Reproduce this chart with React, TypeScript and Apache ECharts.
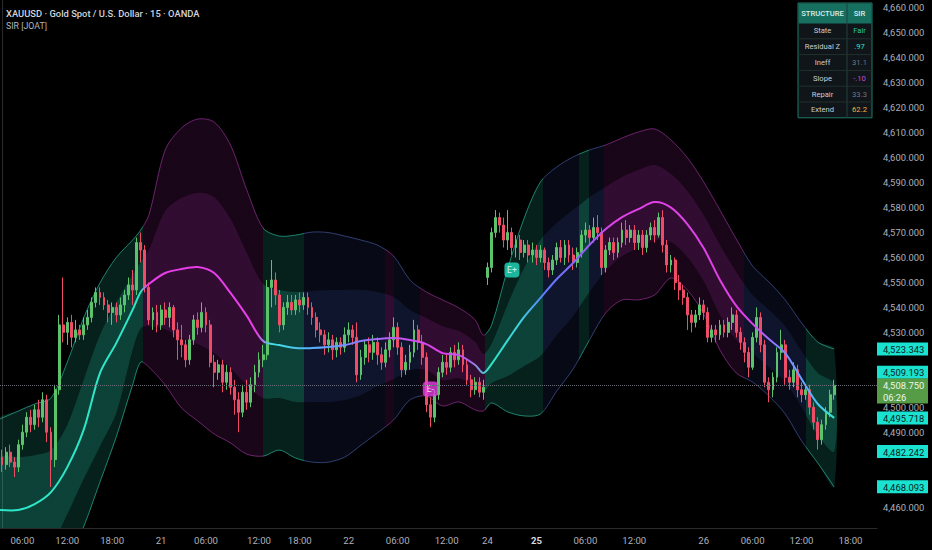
import React, { useEffect, useRef } from 'react';
import * as echarts from 'echarts';

// ---------- data ----------
const N_SLOTS = 215; // 30-minute slots across the visible time range (incl. empty future space)
const CATEGORIES = Array.from({ length: N_SLOTS }, (_, i) => String(i));

const TICK_IDX = [5, 16, 27, 39, 50, 63, 73, 85, 97, 109, 119, 131, 143, 155, 172, 184, 196, 208];
const TICK_LABELS = ['06:00', '12:00', '18:00', '21', '06:00', '12:00', '18:00', '22', '06:00', '12:00', '24', '25', '06:00', '12:00', '26', '06:00', '12:00', '18:00'];

// price-scale labels hidden behind the coloured tags
const HIDDEN_TICKS = [4520, 4510, 4480, 4470];

// [open, close, low, high]
const CANDLES: number[][] = [
  [4480, 4477, 4474, 4483], [4477, 4482, 4475, 4484], [4482, 4478, 4476, 4485], [4478, 4476, 4472, 4480],
  [4476, 4485, 4474, 4487], [4485, 4490, 4483, 4493], [4490, 4496, 4488, 4498], [4496, 4493, 4490, 4499],
  [4493, 4499, 4491, 4501], [4499, 4496, 4492, 4503], [4496, 4503, 4494, 4506], [4503, 4490, 4486, 4505],
  [4490, 4479, 4468, 4492], [4479, 4507, 4476, 4509], [4507, 4533, 4505, 4537], [4533, 4530, 4526, 4552],
  [4530, 4534, 4525, 4536], [4534, 4528, 4524, 4537], [4528, 4531, 4526, 4535], [4531, 4529, 4527, 4533],
  [4529, 4533, 4527, 4536], [4533, 4536, 4531, 4539], [4536, 4542, 4534, 4544], [4542, 4546, 4540, 4548],
  [4546, 4544, 4541, 4548], [4544, 4541, 4539, 4546], [4541, 4538, 4534, 4543], [4538, 4540, 4533, 4542],
  [4540, 4537, 4534, 4542], [4537, 4541, 4535, 4544], [4541, 4545, 4538, 4547], [4545, 4549, 4543, 4552],
  [4549, 4547, 4541, 4555], [4547, 4566, 4545, 4568], [4566, 4563, 4558, 4570], [4563, 4548, 4546, 4565],
  [4548, 4535, 4533, 4550], [4535, 4538, 4531, 4540], [4538, 4533, 4530, 4541], [4533, 4539, 4531, 4541],
  [4539, 4536, 4533, 4542], [4536, 4540, 4532, 4542], [4540, 4531, 4528, 4541], [4531, 4527, 4519, 4534],
  [4527, 4525, 4520, 4533], [4525, 4519, 4516, 4527], [4519, 4527, 4517, 4529], [4527, 4535, 4525, 4537],
  [4535, 4532, 4529, 4538], [4532, 4538, 4530, 4542], [4538, 4533, 4530, 4540], [4533, 4518, 4516, 4535],
  [4518, 4514, 4508, 4521], [4514, 4517, 4511, 4519], [4517, 4510, 4506, 4519], [4510, 4514, 4507, 4517],
  [4514, 4508, 4505, 4516], [4508, 4503, 4497, 4511], [4503, 4498, 4490, 4506], [4498, 4506, 4496, 4509],
  [4506, 4502, 4499, 4511], [4502, 4509, 4500, 4512], [4509, 4514, 4506, 4517], [4514, 4519, 4512, 4522],
  [4519, 4521, 4516, 4525], [4521, 4548, 4519, 4551], [4548, 4551, 4540, 4559], [4551, 4545, 4541, 4554],
  [4545, 4533, 4530, 4547], [4533, 4540, 4531, 4542], [4540, 4542, 4537, 4545], [4542, 4539, 4537, 4545],
  [4539, 4543, 4537, 4545], [4543, 4541, 4538, 4546], [4541, 4544, 4539, 4546], [4544, 4540, 4537, 4546],
  [4540, 4536, 4533, 4542], [4536, 4531, 4528, 4538], [4531, 4529, 4526, 4534], [4529, 4525, 4521, 4531],
  [4525, 4527, 4522, 4530], [4527, 4523, 4519, 4529], [4523, 4526, 4520, 4528], [4526, 4524, 4521, 4528],
  [4524, 4529, 4522, 4532], [4529, 4531, 4526, 4534], [4531, 4528, 4525, 4533], [4528, 4513, 4510, 4534],
  [4513, 4520, 4511, 4523], [4520, 4525, 4517, 4527], [4525, 4522, 4518, 4528], [4522, 4526, 4519, 4529],
  [4526, 4521, 4517, 4528], [4521, 4518, 4515, 4524], [4518, 4523, 4516, 4526], [4523, 4527, 4520, 4530],
  [4527, 4532, 4524, 4536], [4532, 4524, 4521, 4534], [4524, 4515, 4512, 4526], [4515, 4518, 4513, 4521],
  [4518, 4522, 4515, 4525], [4522, 4531, 4520, 4535], [4531, 4526, 4523, 4533], [4526, 4520, 4517, 4529],
  [4520, 4501, 4498, 4522], [4501, 4496, 4492, 4504], [4496, 4505, 4494, 4507], [4505, 4514, 4503, 4516],
  [4514, 4518, 4512, 4521], [4518, 4516, 4513, 4521], [4516, 4522, 4514, 4524], [4522, 4519, 4516, 4525],
  [4519, 4523, 4517, 4526], [4523, 4517, 4514, 4525], [4517, 4511, 4509, 4519], [4511, 4507, 4504, 4513],
  [4507, 4510, 4505, 4512], [4510, 4506, 4504, 4512], [4506, 4508, 4503, 4511], [4552, 4556, 4549, 4558],
  [4556, 4570, 4554, 4572], [4570, 4576, 4568, 4579], [4576, 4573, 4570, 4578], [4573, 4567, 4564, 4576],
  [4567, 4570, 4563, 4579], [4570, 4564, 4561, 4572], [4564, 4567, 4560, 4569], [4567, 4562, 4559, 4569],
  [4562, 4565, 4560, 4567], [4565, 4561, 4558, 4567], [4561, 4563, 4558, 4566], [4563, 4560, 4557, 4565],
  [4560, 4563, 4558, 4565], [4563, 4558, 4555, 4564], [4558, 4555, 4552, 4560], [4555, 4559, 4553, 4561],
  [4559, 4564, 4557, 4566], [4564, 4560, 4558, 4567], [4560, 4565, 4557, 4567], [4565, 4561, 4558, 4567],
  [4561, 4558, 4555, 4564], [4558, 4562, 4556, 4564], [4562, 4569, 4560, 4571], [4569, 4571, 4566, 4574],
  [4571, 4568, 4565, 4573], [4568, 4572, 4566, 4576], [4572, 4570, 4567, 4577], [4570, 4556, 4553, 4572],
  [4556, 4563, 4554, 4565], [4563, 4566, 4561, 4568], [4566, 4562, 4559, 4568], [4562, 4566, 4560, 4568],
  [4566, 4571, 4564, 4574], [4571, 4568, 4565, 4575], [4568, 4571, 4566, 4573], [4571, 4566, 4563, 4573],
  [4566, 4569, 4563, 4571], [4569, 4564, 4561, 4571], [4564, 4569, 4562, 4571], [4569, 4572, 4567, 4574],
  [4572, 4569, 4566, 4575], [4569, 4576, 4568, 4578], [4576, 4565, 4562, 4579], [4565, 4557, 4554, 4567],
  [4557, 4559, 4554, 4561], [4559, 4550, 4547, 4560], [4550, 4547, 4543, 4553], [4547, 4544, 4541, 4549],
  [4544, 4537, 4531, 4546], [4537, 4534, 4530, 4539], [4534, 4537, 4532, 4539], [4537, 4541, 4535, 4544],
  [4541, 4538, 4535, 4543], [4538, 4528, 4526, 4540], [4528, 4531, 4526, 4533], [4531, 4529, 4526, 4533],
  [4529, 4533, 4527, 4535], [4533, 4530, 4528, 4535], [4530, 4534, 4528, 4536], [4534, 4537, 4531, 4540],
  [4537, 4530, 4528, 4539], [4530, 4526, 4523, 4532], [4526, 4522, 4518, 4528], [4522, 4516, 4512, 4524],
  [4516, 4528, 4515, 4530], [4528, 4536, 4526, 4540], [4536, 4525, 4522, 4538], [4525, 4510, 4508, 4527],
  [4510, 4507, 4502, 4512], [4507, 4512, 4504, 4514], [4512, 4522, 4510, 4524], [4522, 4525, 4519, 4531],
  [4525, 4512, 4509, 4527], [4512, 4510, 4507, 4515], [4510, 4515, 4508, 4518], [4515, 4507, 4504, 4517],
  [4507, 4505, 4502, 4510], [4505, 4507, 4503, 4509], [4507, 4500, 4497, 4509], [4500, 4494, 4491, 4502],
  [4494, 4487, 4483, 4496], [4487, 4493, 4485, 4495], [4493, 4498, 4491, 4500], [4498, 4505, 4496, 4507],
  [4505, 4508.75, 4503, 4511],
];

// band samples (x in slot units)
const BAND_X = [-0.5, 4, 8, 12, 16, 20, 24, 28, 32, 34, 36, 40, 44, 48, 52, 56, 60, 64, 68, 72, 76, 80, 84, 88, 92, 96, 100, 104, 108, 112, 116, 118, 120, 124, 128, 132, 136, 140, 144, 148, 152, 156, 160, 164, 168, 172, 176, 180, 184, 188, 192, 196, 200, 204];
const MID = [4458.8, 4458.8, 4461.2, 4466.0, 4476.0, 4490.9, 4513.7, 4525.7, 4539.0, 4546.2, 4549.4, 4553.8, 4555.4, 4556.2, 4553.8, 4545.8, 4536.6, 4526.5, 4524.9, 4523.7, 4523.7, 4524.1, 4524.9, 4526.5, 4527.3, 4527.7, 4526.9, 4525.3, 4521.7, 4520.9, 4516.9, 4513.7, 4517.3, 4526.9, 4536.2, 4543.8, 4551.4, 4557.8, 4565.0, 4571.4, 4576.2, 4579.4, 4582.2, 4580.0, 4573.4, 4563.8, 4551.0, 4540.6, 4533.4, 4527.3, 4521.7, 4511.3, 4501.3, 4495.718];
const UP_OUTER = [4495.3, 4498.5, 4501.3, 4503.7, 4518.1, 4535.8, 4549.8, 4560.0, 4567.0, 4571.0, 4577.0, 4603.1, 4611.9, 4615.5, 4614.3, 4605.1, 4587.1, 4571.8, 4568.6, 4569.0, 4570.2, 4570.0, 4568.6, 4567.0, 4565.0, 4560.6, 4551.0, 4546.2, 4543.0, 4539.8, 4535.0, 4528.9, 4532.9, 4555.8, 4575.8, 4590.3, 4596.3, 4600.3, 4603.1, 4605.1, 4607.9, 4610.3, 4611.5, 4607.1, 4600.0, 4590.3, 4579.0, 4567.4, 4556.6, 4550.2, 4543.0, 4533.8, 4526.1, 4523.343];
const UP_INNER = [4479.6, 4480.0, 4480.8, 4482.8, 4492.9, 4510.9, 4528.9, 4541.8, 4553.0, 4558.2, 4563.0, 4578.6, 4583.8, 4585.9, 4584.2, 4575.4, 4561.8, 4549.4, 4547.0, 4546.2, 4546.6, 4547.0, 4547.0, 4547.0, 4546.2, 4544.2, 4539.0, 4535.8, 4532.5, 4530.5, 4526.1, 4521.3, 4525.3, 4541.4, 4555.8, 4567.0, 4573.8, 4579.0, 4584.2, 4588.3, 4592.3, 4595.1, 4597.1, 4593.5, 4586.7, 4577.0, 4565.0, 4554.2, 4545.0, 4539.0, 4532.5, 4522.5, 4513.7, 4509.193];
const LO_INNER = [4438.0, 4437.6, 4441.6, 4444.8, 4457.2, 4471.2, 4484.4, 4497.7, 4522.9, 4531.7, 4532.5, 4531.3, 4527.7, 4525.3, 4521.7, 4515.7, 4508.9, 4503.7, 4503.7, 4502.1, 4502.1, 4502.1, 4502.9, 4504.9, 4508.5, 4511.3, 4514.9, 4514.9, 4510.9, 4511.7, 4508.3, 4506.1, 4509.7, 4512.5, 4516.5, 4520.5, 4528.9, 4536.6, 4546.2, 4554.6, 4560.6, 4563.8, 4567.0, 4566.2, 4560.2, 4550.6, 4537.0, 4526.9, 4521.7, 4516.1, 4510.1, 4500.1, 4488.9, 4482.242];
const LO_OUTER = [4422.3, 4419.1, 4421.1, 4426.7, 4436.8, 4452.0, 4470.0, 4488.1, 4508.9, 4518.1, 4516.1, 4508.9, 4499.7, 4494.5, 4489.3, 4485.7, 4481.2, 4480.4, 4482.8, 4479.6, 4478.0, 4478.0, 4480.0, 4484.8, 4489.7, 4494.9, 4502.9, 4504.5, 4500.5, 4502.1, 4498.9, 4498.5, 4501.7, 4498.1, 4496.5, 4497.3, 4506.5, 4515.3, 4526.9, 4537.8, 4543.0, 4543.0, 4545.0, 4551.8, 4547.0, 4537.4, 4522.9, 4513.7, 4510.1, 4504.5, 4497.3, 4486.5, 4477.6, 4468.093];

// regime segments
const REGIME_START = [-0.5, 34.5, 64, 74, 94, 96, 102.5, 118.5, 132.5, 141.5, 144, 147.5, 182, 197];
const REGIME_KIND = ['bull', 'bear', 'bull', 'neu', 'bear', 'neu', 'bear', 'bull', 'neu', 'bull', 'neu', 'bear', 'neu', 'bull'];

// midline colour keys
const MID_COLOR_X = [0, 34, 35.5, 62.5, 66, 78, 88, 97.5, 107.5, 114.5, 119.5, 127, 133, 144, 150, 183.5, 189.5, 198, 204];
const MID_COLOR = ['#2ee6c8', '#2ee6c8', '#e83ee8', '#e83ee8', '#3fe0e0', '#5aa8ff', '#8a7cff', '#c455f0', '#e040e8', '#b060f0', '#2ee6c8', '#40d0e0', '#5a7cff', '#9a5cf5', '#e040e8', '#e040e8', '#8a7cff', '#5ab0ff', '#2ee6c8'];

// signal labels
const SIGNAL_IDX = [125, 105];
const SIGNAL_PRICE = [4555.0, 4507.3];
const SIGNAL_TEXT = ['E+', 'E-'];
const SIGNAL_COLOR = ['#1fdcbe', '#e23fe0'];

// price tags on the scale
const TAG_VALUES = [4523.343, 4509.193, 4495.718, 4482.242, 4468.093];
const TAG_LABELS = ['4,523.343', '4,509.193', '4,495.718', '4,482.242', '4,468.093'];
const TAG_SHIFT = [0, -12, 0, 0, 0];
const LAST_PRICE = 4508.75;
const LAST_LABEL = '4,508.750';
const COUNTDOWN = '06:26';

// table
const TABLE_HEAD = ['STRUCTURE', 'SIR'];
const TABLE_ROWS = ['State', 'Residual Z', 'Ineff', 'Slope', 'Repair', 'Extend'];
const TABLE_VALUES = ['Fair', '.97', '31.1', '-.10', '33.3', '62.2'];
const TABLE_VALUE_COLORS = ['#26c6a6', '#2ee6c8', '#6f7580', '#c64bd8', '#6f7580', '#e6b84a'];

const TITLE = 'XAUUSD · Gold Spot / U.S. Dollar · 15 · OANDA';
const SUBTITLE = 'SIR [JOAT]';

// ---------- styles ----------
const OUTER_FILL: Record<string, string> = { bull: 'rgba(38,200,170,0.16)', bear: 'rgba(205,50,205,0.12)', neu: 'rgba(70,100,215,0.10)' };
const INNER_FILL: Record<string, string> = { bull: 'rgba(38,200,170,0.20)', bear: 'rgba(215,55,215,0.13)', neu: 'rgba(70,100,215,0.12)' };
const EDGE_COLOR: Record<string, string> = { bull: 'rgba(45,205,175,0.6)', bear: 'rgba(200,65,200,0.5)', neu: 'rgba(90,115,210,0.5)' };
const SMOOTH = 0.3;
const FONT = 'Roboto, "Noto Sans", sans-serif';

const fmtPrice = (v: number) => {
  const s = Number(v).toFixed(3);
  const [a, b] = s.split('.');
  return a.replace(/\B(?=(\d{3})+(?!\d))/g, ',') + '.' + b;
};

const clamp01 = (v: number) => Math.max(0, Math.min(1, v));

function regimeStops(api: any, x0: number, x1: number, colors: Record<string, string>) {
  const span = x1 - x0 || 1;
  const stops: any[] = [];
  for (let k = 0; k < REGIME_START.length; k++) {
    const s = api.coord([REGIME_START[k], 4500])[0];
    const e = k + 1 < REGIME_START.length ? api.coord([REGIME_START[k + 1], 4500])[0] : x1;
    const c = colors[REGIME_KIND[k]];
    stops.push({ offset: clamp01((s - x0) / span), color: c });
    stops.push({ offset: clamp01((e - x0) / span), color: c });
  }
  return stops;
}

const bandRender = (params: any, api: any) => {
  if (params.dataIndex !== 0) return null;
  const pts = (arr: number[]) => BAND_X.map((x, i) => api.coord([x, arr[i]]));
  const uo = pts(UP_OUTER);
  const ui = pts(UP_INNER);
  const li = pts(LO_INNER);
  const lo = pts(LO_OUTER);
  const x0 = uo[0][0];
  const x1 = uo[uo.length - 1][0];
  const grad = (colors: Record<string, string>) =>
    new echarts.graphic.LinearGradient(x0, 0, x1, 0, regimeStops(api, x0, x1, colors), true);
  return {
    type: 'group',
    children: [
      { type: 'polygon', shape: { points: uo.concat(lo.slice().reverse()), smooth: SMOOTH }, style: { fill: grad(OUTER_FILL), stroke: 'none' } },
      { type: 'polygon', shape: { points: ui.concat(li.slice().reverse()), smooth: SMOOTH }, style: { fill: grad(INNER_FILL), stroke: 'none' } },
      { type: 'polyline', shape: { points: uo, smooth: SMOOTH }, style: { fill: 'none', stroke: grad(EDGE_COLOR), lineWidth: 1 } },
      { type: 'polyline', shape: { points: lo, smooth: SMOOTH }, style: { fill: 'none', stroke: grad(EDGE_COLOR), lineWidth: 1 } },
    ],
  };
};

const midRender = (params: any, api: any) => {
  if (params.dataIndex !== 0) return null;
  const pts = BAND_X.map((x, i) => api.coord([x, MID[i]]));
  const x0 = pts[0][0];
  const x1 = pts[pts.length - 1][0];
  const span = x1 - x0 || 1;
  const stops = MID_COLOR_X.map((x, k) => ({ offset: clamp01((api.coord([x, 4500])[0] - x0) / span), color: MID_COLOR[k] }));
  return {
    type: 'polyline',
    shape: { points: pts, smooth: SMOOTH },
    style: { fill: 'none', stroke: new echarts.graphic.LinearGradient(x0, 0, x1, 0, stops, true), lineWidth: 2 },
  };
};

const tagRender = (params: any, api: any) => {
  const i = params.dataIndex;
  const p = api.coord([api.value(0), api.value(1)]);
  const y = p[1] + TAG_SHIFT[i];
  return {
    type: 'group',
    children: [
      { type: 'rect', shape: { x: p[0], y: y - 6.5, width: 51, height: 13 }, style: { fill: '#19e3d0' } },
      { type: 'text', style: { text: TAG_LABELS[i], x: p[0] + 6, y: y + 0.5, fill: '#0a1c1c', font: `9.4px ${FONT}`, align: 'left', verticalAlign: 'middle' } },
    ],
  };
};

const lastTagRender = (params: any, api: any) => {
  const p = api.coord([api.value(0), api.value(1)]);
  const y = p[1];
  return {
    type: 'group',
    children: [
      { type: 'rect', shape: { x: p[0], y: y - 7, width: 51, height: 25 }, style: { fill: '#569c46' } },
      { type: 'text', style: { text: LAST_LABEL, x: p[0] + 6, y: y + 0.5, fill: '#eef6ea', font: `9.4px ${FONT}`, align: 'left', verticalAlign: 'middle' } },
      { type: 'text', style: { text: COUNTDOWN, x: p[0] + 6, y: y + 12, fill: '#eef6ea', font: `9.4px ${FONT}`, align: 'left', verticalAlign: 'middle' } },
    ],
  };
};

function buildTable() {
  const X = 798, Y = 3, W = 74, SPLIT = 49, HEAD_H = 20, ROW_H = 15.8;
  const H = HEAD_H + ROW_H * TABLE_ROWS.length;
  const els: any[] = [];
  els.push({ type: 'rect', shape: { x: X, y: Y, width: W, height: H }, style: { fill: '#0f1518', stroke: '#1e7a6a', lineWidth: 1 }, z: 10 });
  els.push({ type: 'rect', shape: { x: X + 0.5, y: Y + 0.5, width: W - 1, height: HEAD_H }, style: { fill: '#17705f' }, z: 11 });
  els.push({ type: 'line', shape: { x1: X + SPLIT, y1: Y, x2: X + SPLIT, y2: Y + H }, style: { stroke: '#24403e', lineWidth: 1 }, z: 12 });
  for (let r = 1; r < TABLE_ROWS.length; r++) {
    const yy = Y + HEAD_H + ROW_H * r;
    els.push({ type: 'line', shape: { x1: X, y1: yy, x2: X + W, y2: yy }, style: { stroke: '#22302f', lineWidth: 1 }, z: 12 });
  }
  const c1 = X + SPLIT / 2;
  const c2 = X + SPLIT + (W - SPLIT) / 2;
  const hy = Y + HEAD_H / 2 + 0.5;
  els.push({ type: 'text', style: { text: TABLE_HEAD[0], x: c1, y: hy, fill: '#d8efe8', font: `500 7.6px ${FONT}`, align: 'center', verticalAlign: 'middle' }, z: 13 });
  els.push({ type: 'text', style: { text: TABLE_HEAD[1], x: c2, y: hy, fill: '#d8efe8', font: `500 7.6px ${FONT}`, align: 'center', verticalAlign: 'middle' }, z: 13 });
  TABLE_ROWS.forEach((label, r) => {
    const yy = Y + HEAD_H + ROW_H * (r + 0.5);
    els.push({ type: 'text', style: { text: label, x: c1, y: yy, fill: '#c8ccd4', font: `7.6px ${FONT}`, align: 'center', verticalAlign: 'middle' }, z: 13 });
    els.push({ type: 'text', style: { text: TABLE_VALUES[r], x: c2, y: yy, fill: TABLE_VALUE_COLORS[r], font: `7.6px ${FONT}`, align: 'center', verticalAlign: 'middle' }, z: 13 });
  });
  return els;
}

export default function App() {
  const ref = useRef<HTMLDivElement | null>(null);
  useEffect(() => {
    if (!ref.current) return;
    const chart = echarts.init(ref.current, undefined, { renderer: 'svg' });
    const option: any = {
      animation: false,
      backgroundColor: '#000000',
      grid: { left: 0, right: 55, top: 0, bottom: 22, containLabel: false },
      xAxis: [
        {
          type: 'category',
          data: CATEGORIES,
          boundaryGap: true,
          axisLine: { show: true, lineStyle: { color: '#2a2a2a' } },
          axisTick: { show: false },
          splitLine: { show: false },
          axisLabel: {
            interval: (i: number) => TICK_IDX.includes(i),
            formatter: (_v: string, i: number) => {
              const k = TICK_IDX.indexOf(i);
              if (k < 0) return '';
              const t = TICK_LABELS[k];
              return t === '25' ? '{b|25}' : t;
            },
            color: '#aeb1ba',
            fontSize: 9.6,
            fontFamily: FONT,
            margin: 7,
            rich: { b: { fontWeight: 'bold', color: '#d6d9e0', fontSize: 9.6, fontFamily: FONT } },
          },
        },
        { type: 'value', min: -0.5, max: N_SLOTS - 0.5, show: false },
      ],
      yAxis: [
        {
          type: 'value',
          position: 'right',
          min: 4451.6,
          max: 4663.2,
          splitNumber: 21,
          minInterval: 10,
          maxInterval: 10,
          scale: true,
          axisLine: { show: true, lineStyle: { color: '#2a2a2a' } },
          axisTick: { show: false },
          splitLine: { show: false },
          axisLabel: {
            color: '#aeb1ba',
            fontSize: 9.4,
            fontFamily: FONT,
            margin: 6,
            showMinLabel: false,
            showMaxLabel: false,
            formatter: (v: number) => (HIDDEN_TICKS.some((h) => Math.abs(h - v) < 0.01) ? '' : fmtPrice(v)),
          },
        },
      ],
      series: [
        {
          type: 'custom',
          name: 'bands',
          coordinateSystem: 'cartesian2d',
          xAxisIndex: 1,
          yAxisIndex: 0,
          data: [[BAND_X[0], MID[0]]],
          renderItem: bandRender,
          clip: true,
          silent: true,
          z: 1,
        },
        {
          type: 'candlestick',
          name: 'XAUUSD',
          xAxisIndex: 0,
          yAxisIndex: 0,
          data: CANDLES,
          barWidth: '58%',
          itemStyle: { color: '#5cc26b', color0: '#ef4d67', borderColor: '#5cc26b', borderColor0: '#ef4d67', borderWidth: 1 },
          markLine: {
            silent: true,
            symbol: ['none', 'none'],
            label: { show: false },
            lineStyle: { color: '#6a6d78', type: 'dotted', width: 1 },
            data: [{ yAxis: LAST_PRICE }],
          },
          z: 2,
        },
        {
          type: 'custom',
          name: 'mid',
          coordinateSystem: 'cartesian2d',
          xAxisIndex: 1,
          yAxisIndex: 0,
          data: [[BAND_X[0], MID[0]]],
          renderItem: midRender,
          clip: true,
          silent: true,
          z: 3,
        },
        ...SIGNAL_IDX.map((idx, k) => ({
          type: 'scatter',
          name: SIGNAL_TEXT[k],
          xAxisIndex: 0,
          yAxisIndex: 0,
          data: [[idx, SIGNAL_PRICE[k]]],
          symbol: 'roundRect',
          symbolSize: [15, 15],
          itemStyle: { color: SIGNAL_COLOR[k] },
          label: { show: true, position: 'inside', formatter: SIGNAL_TEXT[k], color: '#ffffff', fontSize: 8.5, fontFamily: FONT },
          silent: true,
          z: 4,
        })),
        {
          type: 'custom',
          name: 'tags',
          coordinateSystem: 'cartesian2d',
          xAxisIndex: 1,
          yAxisIndex: 0,
          data: TAG_VALUES.map((v) => [N_SLOTS - 0.5, v]),
          renderItem: tagRender,
          clip: false,
          silent: true,
          z: 6,
        },
        {
          type: 'custom',
          name: 'last',
          coordinateSystem: 'cartesian2d',
          xAxisIndex: 1,
          yAxisIndex: 0,
          data: [[N_SLOTS - 0.5, LAST_PRICE]],
          renderItem: lastTagRender,
          clip: false,
          silent: true,
          z: 7,
        },
      ],
      graphic: [
        { type: 'text', x: 6, y: 13, style: { text: TITLE, fill: '#d1d4dc', font: `500 9.4px ${FONT}`, align: 'left', verticalAlign: 'middle' }, z: 20 },
        { type: 'text', x: 6, y: 26, style: { text: SUBTITLE, fill: '#b2b5be', font: `8.8px ${FONT}`, align: 'left', verticalAlign: 'middle' }, z: 20 },
        ...buildTable(),
      ],
    };
    chart.setOption(option);
    return () => chart.dispose();
  }, []);
  return <div ref={ref} style={{ position: 'fixed', left: 0, top: 0, width: 932, height: 550, background: '#000' }} />;
}
